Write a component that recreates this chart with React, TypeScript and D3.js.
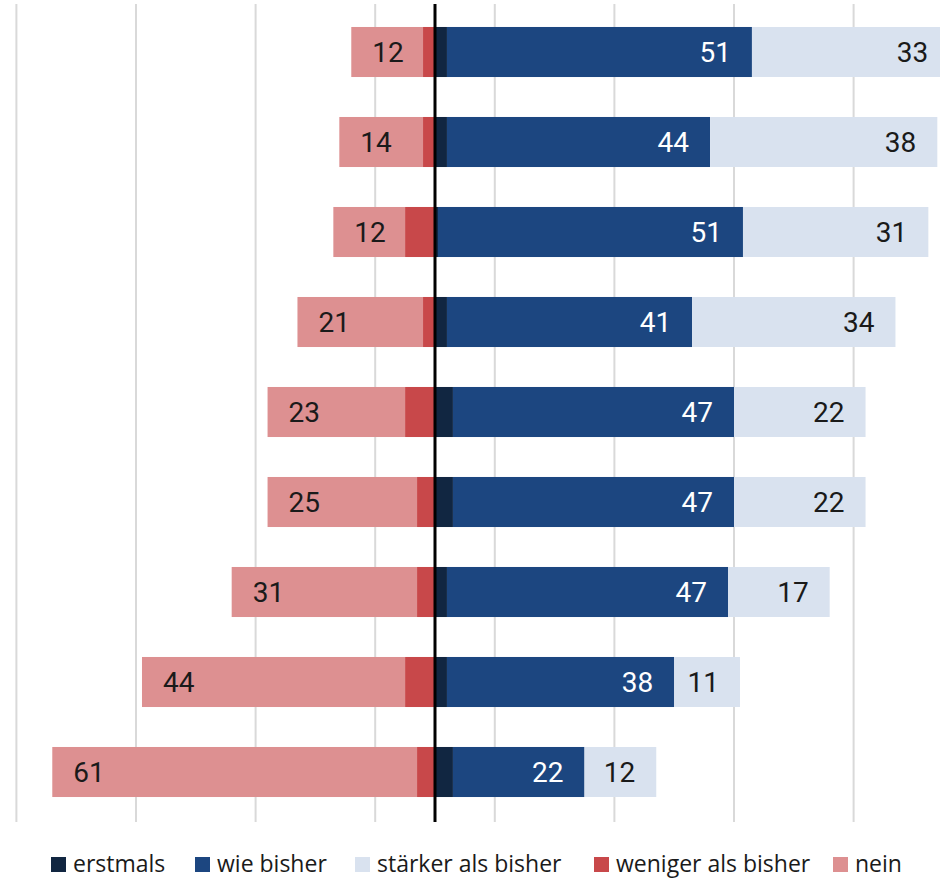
import React from "react";
import * as d3 from "d3";

const categories = ["1", "2", "3", "4", "5", "6", "7", "8", "9"];
const nein = [12, 14, 12, 21, 23, 25, 31, 44, 61];
const weniger = [2, 2, 5, 2, 5, 3, 3, 5, 3];
const erstmals = [2, 2, 0.5, 2, 3, 3, 2, 2, 3];
const wieBisher = [51, 44, 51, 41, 47, 47, 47, 38, 22];
const staerker = [33, 38, 31, 34, 22, 22, 17, 11, 12];

const seriesNames = ["erstmals", "wie bisher", "stärker als bisher", "weniger als bisher", "nein"];
const gridTicks = [-70, -50, -30, -10, 10, 30, 50, 70];

const COLORS: Record<string, string> = {
  erstmals: "#112641",
  "wie bisher": "#1c4680",
  "stärker als bisher": "#d9e2ef",
  "weniger als bisher": "#c8484a",
  nein: "#dd9091",
};

const W = 940;
const H = 880;

export default function App() {
  const x = d3.scaleLinear().domain([-70, 70]).range([16.4, 853.6]);
  const y = d3.scaleBand<string>().domain(categories).range([7, 817]).paddingInner(0.444).paddingOuter(0.222);
  const bw = y.bandwidth();
  const labelFont = "Roboto, 'Open Sans', sans-serif";

  const rows = categories.map((c, i) => {
    const segs = [
      { key: "nein", x0: -(weniger[i] + nein[i]), x1: -weniger[i], v: nein[i] },
      { key: "weniger als bisher", x0: -weniger[i], x1: 0, v: weniger[i] },
      { key: "erstmals", x0: 0, x1: erstmals[i], v: erstmals[i] },
      { key: "wie bisher", x0: erstmals[i], x1: erstmals[i] + wieBisher[i], v: wieBisher[i] },
      {
        key: "stärker als bisher",
        x0: erstmals[i] + wieBisher[i],
        x1: erstmals[i] + wieBisher[i] + staerker[i],
        v: staerker[i],
      },
    ];
    return { c, segs };
  });

  const legendX = [51, 195, 355, 594, 833];

  return (
    <svg
      width={W}
      height={H}
      style={{ position: "absolute", left: 0, top: 0, background: "#fff" }}
    >
      <rect x={0} y={0} width={W} height={H} fill="#fff" />
      {gridTicks.map((t) => (
        <line key={t} x1={x(t)} x2={x(t)} y1={4} y2={822} stroke="#d9d9d9" strokeWidth={2} />
      ))}
      {rows.map((r) => {
        const y0 = y(r.c)!;
        const cy = y0 + bw / 2;
        return (
          <g key={r.c}>
            {r.segs.map((s) => (
              <rect
                key={s.key}
                x={x(s.x0)}
                y={y0}
                width={Math.max(0, x(s.x1) - x(s.x0))}
                height={bw}
                fill={COLORS[s.key]}
              />
            ))}
            {r.segs.map((s) => {
              if (s.key === "nein") {
                return (
                  <text key={"t" + s.key} x={x(s.x0) + 21} y={cy} dy="0.36em" fontFamily={labelFont} fontSize={28} fill="#1a1a1a">
                    {s.v}
                  </text>
                );
              }
              if (s.key === "wie bisher" || s.key === "stärker als bisher") {
                return (
                  <text
                    key={"t" + s.key}
                    x={x(s.x1) - 21}
                    y={cy}
                    dy="0.36em"
                    textAnchor="end"
                    fontFamily={labelFont}
                    fontSize={28}
                    fill={s.key === "wie bisher" ? "#ffffff" : "#1a1a1a"}
                  >
                    {s.v}
                  </text>
                );
              }
              return null;
            })}
          </g>
        );
      })}
      <line x1={x(0)} x2={x(0)} y1={4} y2={822} stroke="#000" strokeWidth={3} />
      {seriesNames.map((n, i) => (
        <g key={n} transform={`translate(${legendX[i]},0)`}>
          <rect x={0} y={857} width={15} height={15} fill={COLORS[n]} />
          <text x={22} y={872} fontFamily="'Open Sans', sans-serif" fontSize={23} fill="#1a1a1a">
            {n}
          </text>
        </g>
      ))}
    </svg>
  );
}
